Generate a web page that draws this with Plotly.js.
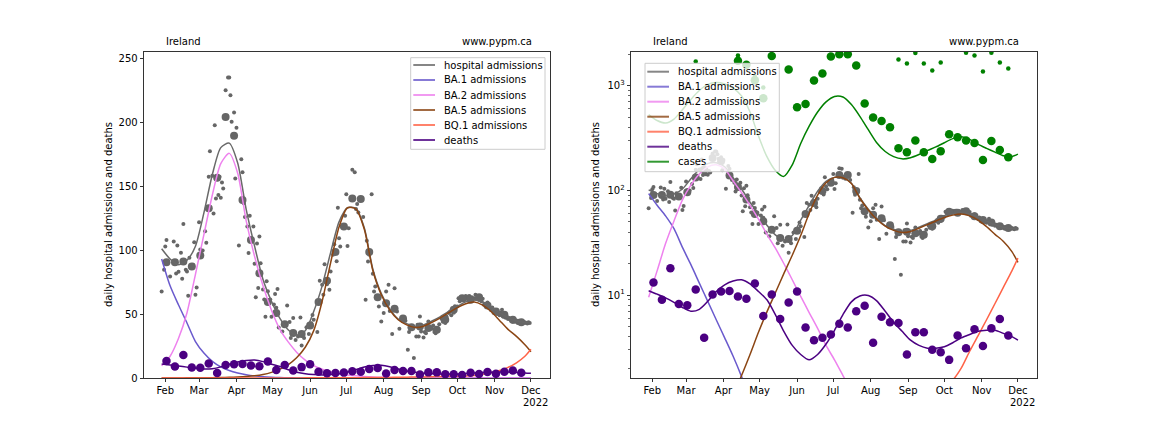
<!DOCTYPE html>
<html><head><meta charset="utf-8">
<script src="https://cdn.plot.ly/plotly-3.0.1.min.js"></script>
<style>html,body{margin:0;padding:0;background:#fff;}#chart{width:1152px;height:432px;}</style>
</head><body><div id="chart"></div>
<script>
// ---------------- DATA ----------------
const monthTicks = ['2022-02-01','2022-03-01','2022-04-01','2022-05-01','2022-06-01','2022-07-01','2022-08-01','2022-09-01','2022-10-01','2022-11-01','2022-12-01'];
const monthLabels = ['Feb','Mar','Apr','May','Jun','Jul','Aug','Sep','Oct','Nov','Dec'];
const yearLabel = '2022';
const regionLabel = 'Ireland';
const siteLabel = 'www.pypm.ca';
const yTitle = 'daily hospital admissions and deaths';
const linearTicks = [0, 50, 100, 150, 200, 250];
const logTicks = [10, 100, 1000];
const logTickText = ['10<sup>1</sup>', '10<sup>2</sup>', '10<sup>3</sup>'];

// model curves (sampled weekly)
const curveDates = ['2022-01-29','2022-02-05','2022-02-12','2022-02-19','2022-02-26','2022-03-05','2022-03-12','2022-03-19','2022-03-26','2022-04-02','2022-04-09','2022-04-16','2022-04-23','2022-04-30','2022-05-07','2022-05-14','2022-05-21','2022-05-28','2022-06-04','2022-06-11','2022-06-18','2022-06-25','2022-07-02','2022-07-09','2022-07-16','2022-07-23','2022-07-30','2022-08-06','2022-08-13','2022-08-20','2022-08-27','2022-09-03','2022-09-10','2022-09-17','2022-09-24','2022-10-01','2022-10-08','2022-10-15','2022-10-22','2022-10-29','2022-11-05','2022-11-12','2022-11-19','2022-11-26','2022-12-01'];
const hospCurve = [101,93,88.5,92,103,129,159,180,183.5,168,132,103,77,60,46.5,37.5,33.5,37,52,72,98,122,133,132.5,117,85,66,54,46,42.5,40.5,41.5,44.5,48,52,56,59.5,61,59.5,55.5,51,47,44.5,43.3,43];
const ba1Curve = [93,72,57,43,28.5,19.5,13,8.7,5.8,3.9,2.6,1.66,1.0,0.56,0.3,0.17,0.09,0.05,0.03,0.02,0.015,0.01,0.01,0.01,0.01,0.01,0.01,0.01,0.01,0.01,0.01,0.01,0.01,0.01,0.01,0.01,0.01,0.01,0.01,0.01,0.01,0.01,0.01,0.01,0.01];
const ba2Curve = [9.5,17,31,51,81,112,143,167.5,175.5,160,123,95,72,53,38,28,20,14,9.7,6.8,4.8,3.3,2.4,1.7,1.2,0.8,0.5,0.3,0.18,0.1,0.06,0.04,0.03,0.02,0.02,0.01,0.01,0.01,0.01,0.01,0.01,0.01,0.01,0.01,0.01];
const ba5Curve = [0.05,0.06,0.08,0.1,0.13,0.17,0.25,0.35,0.5,0.72,1.1,1.7,2.7,4.4,6.9,10.5,16,24,37,60,90,118,133,132,116,84,65,53,45.5,41.5,39.5,40.5,43.5,47,51,55,58,59.4,57,52,45,38,32.5,26,20.5];
const bq1Curve = [0.01,0.012,0.014,0.016,0.018,0.02,0.023,0.026,0.03,0.034,0.04,0.045,0.05,0.06,0.07,0.08,0.09,0.1,0.12,0.14,0.16,0.19,0.22,0.26,0.3,0.35,0.4,0.47,0.55,0.64,0.75,0.87,1.0,1.15,1.3,1.45,1.55,2.0,2.9,4.1,5.8,8.3,11.9,17,22.5];
const deathsCurve = [11,10.2,9.4,8.5,7.6,7.0,7.3,8.7,10.8,12.5,13.6,14,12.8,10.8,9.0,6.5,4.5,3.3,2.7,2.4,2.7,3.4,4.6,6.5,8.6,9.8,9.9,8.8,7.0,5.5,4.5,3.7,3.3,3.1,3.1,3.2,3.5,3.9,4.2,4.5,4.6,4.6,4.3,4.0,3.7];
const casesCurve = [530,465,440,480,590,740,900,1030,1070,1040,950,800,560,330,210,155,136,175,280,410,560,700,790,780,660,510,380,285,235,210,200,205,220,240,260,285,312,325,307,275,252,232,214,211,222];

// weekly data
const weekDates = ['2022-02-02','2022-02-09','2022-02-16','2022-02-23','2022-03-02','2022-03-09','2022-03-16','2022-03-23','2022-03-30','2022-04-06','2022-04-13','2022-04-20','2022-04-27','2022-05-04','2022-05-11','2022-05-18','2022-05-25','2022-06-01','2022-06-08','2022-06-15','2022-06-22','2022-06-29','2022-07-06','2022-07-13','2022-07-20','2022-07-27','2022-08-03','2022-08-10','2022-08-17','2022-08-24','2022-08-31','2022-09-07','2022-09-14','2022-09-21','2022-09-28','2022-10-05','2022-10-12','2022-10-19','2022-10-26','2022-11-02','2022-11-09','2022-11-16','2022-11-23'];
const deathsWeekly = [13.2,9.0,18,8.2,8.0,11.3,3.9,10.1,10.8,10.9,9.7,9.2,12.9,6.3,10.1,5.9,8.5,10.8,4.9,3.7,3.9,4.2,5.3,4.9,7.0,7.9,3.5,6.2,5.5,5.4,2.7,4.4,4.4,3.0,2.84,2.4,4.1,3.1,4.7,3.26,4.8,5.9,4.1];
const hospWeekly = [90.5,90.5,91,87.2,95.8,132.6,156.5,204,189.2,139,107.8,81.8,59.4,50.8,42,35.1,34.3,41.1,59.3,75.9,98.4,118.4,140.3,139.9,98.4,63.1,58.4,54.2,46.5,39.7,40.3,39,37.7,45.5,53.4,62.4,61.1,63,56.7,52,49.4,45.5,43.6];
const casesBigDates = ['2022-04-13','2022-04-20','2022-04-27','2022-05-04','2022-05-11','2022-05-25','2022-06-01','2022-06-08','2022-06-15','2022-06-22','2022-06-29','2022-07-06','2022-07-13','2022-07-20','2022-07-27','2022-08-03','2022-08-10','2022-08-17','2022-08-24','2022-08-31','2022-09-07','2022-09-14','2022-09-21','2022-09-28','2022-10-05','2022-10-12','2022-10-19','2022-10-26','2022-11-02','2022-11-09','2022-11-16','2022-11-23'];
const casesBig = [1730,1585,1130,757,1920,1431,621,667,1124,1310,1900,2000,2000,1563,677,498,459,400,252,231,300,231,199,237,344,321,300,283,195,296,243,207];
const casesSmallDates = ['2022-03-09','2022-04-13','2022-04-27','2022-05-04','2022-08-24','2022-08-31','2022-09-07','2022-09-14','2022-09-21','2022-09-28','2022-10-19','2022-10-26','2022-11-02','2022-11-09','2022-11-16','2022-11-23'];
const casesSmall = [1706,1945,1216,960,1782,1633,2050,1633,1400,1667,2060,1945,1370,2060,1667,1462];

// daily hospital admissions
const hospDailyDates = ['2022-01-29','2022-01-31','2022-02-01','2022-02-02','2022-02-05','2022-02-08','2022-02-10','2022-02-11','2022-02-12','2022-02-14','2022-02-15','2022-02-16','2022-02-18','2022-02-19','2022-02-20','2022-02-21','2022-02-24','2022-02-25','2022-02-26','2022-02-27','2022-03-01','2022-03-02','2022-03-04','2022-03-06','2022-03-07','2022-03-08','2022-03-09','2022-03-10','2022-03-12','2022-03-13','2022-03-14','2022-03-15','2022-03-16','2022-03-17','2022-03-18','2022-03-19','2022-03-20','2022-03-21','2022-03-23','2022-03-25','2022-03-26','2022-03-27','2022-03-28','2022-03-30','2022-03-31','2022-04-01','2022-04-03','2022-04-05','2022-04-06','2022-04-07','2022-04-08','2022-04-10','2022-04-11','2022-04-12','2022-04-15','2022-04-16','2022-04-17','2022-04-18','2022-04-19','2022-04-20','2022-04-21','2022-04-23','2022-04-24','2022-04-25','2022-04-26','2022-04-27','2022-04-29','2022-04-30','2022-05-02','2022-05-03','2022-05-04','2022-05-05','2022-05-06','2022-05-09','2022-05-13','2022-05-15','2022-05-16','2022-05-18','2022-05-20','2022-05-22','2022-05-24','2022-05-25','2022-05-27','2022-05-29','2022-05-31','2022-06-02','2022-06-03','2022-06-04','2022-06-07','2022-06-09','2022-06-11','2022-06-12','2022-06-13','2022-06-15','2022-06-17','2022-06-18','2022-06-20','2022-06-21','2022-06-23','2022-06-24','2022-06-25','2022-06-26','2022-06-30','2022-07-01','2022-07-02','2022-07-03','2022-07-06','2022-07-08','2022-07-09','2022-07-10','2022-07-11','2022-07-15','2022-07-17','2022-07-18','2022-07-19','2022-07-20','2022-07-22','2022-07-23','2022-07-24','2022-07-25','2022-07-28','2022-07-30','2022-08-01','2022-08-03','2022-08-05','2022-08-06','2022-08-08','2022-08-09','2022-08-10','2022-08-12','2022-08-14','2022-08-16','2022-08-19','2022-08-21','2022-08-22','2022-08-26','2022-08-28','2022-08-29','2022-08-30','2022-08-31','2022-09-01','2022-09-03','2022-09-04','2022-09-05','2022-09-06','2022-09-07','2022-09-08','2022-09-10','2022-09-11','2022-09-12','2022-09-13','2022-09-14','2022-09-15','2022-09-16','2022-09-18','2022-09-19','2022-09-20','2022-09-21','2022-09-22','2022-09-24','2022-09-25','2022-09-26','2022-09-27','2022-09-28','2022-09-29','2022-10-01','2022-10-02','2022-10-03','2022-10-05','2022-10-07','2022-10-08','2022-10-09','2022-10-10','2022-10-11','2022-10-12','2022-10-13','2022-10-15','2022-10-16','2022-10-17','2022-10-18','2022-10-19','2022-10-20','2022-10-21','2022-10-22','2022-10-23','2022-10-24','2022-10-25','2022-10-26','2022-10-27','2022-10-28','2022-10-29','2022-10-30','2022-10-31','2022-11-01','2022-11-02','2022-11-03','2022-11-04','2022-11-05','2022-11-06','2022-11-07','2022-11-08','2022-11-09','2022-11-10','2022-11-11','2022-11-12','2022-11-13','2022-11-14','2022-11-15','2022-11-16','2022-11-17','2022-11-18','2022-11-19','2022-11-20','2022-11-21','2022-11-22','2022-11-23','2022-11-24','2022-11-25','2022-11-26','2022-11-27','2022-11-28','2022-11-29','2022-11-30'];
const hospDaily = [67.6,84.5,102.7,107.9,79.3,106.6,81.7,103.6,83,97.9,77.5,120.3,84.5,83.2,64.2,94,88.4,106,65,70.7,121.6,100.3,99.6,114.7,105.6,133.1,157.2,177.2,158,128.6,197.4,140.3,155.3,142.9,157.2,140.8,152.7,148,224.8,234.7,234.7,220.9,200.2,207.4,155.9,195.5,103.6,171,160.7,136.6,125.7,118.4,97.7,126.8,118.4,89.3,63,105,70.4,110.5,89.6,69.1,61.3,47.8,75.6,67.8,61.3,47.8,57.4,65.7,54.8,69.6,39.5,36.4,56.7,43.7,31.2,46.8,29.6,32.4,47.3,25.4,31.2,39.6,34.3,42.8,49.3,45.5,35.9,75.9,72.8,65,88.9,73.3,68.9,83.2,96.2,104.5,91.2,133.1,109.2,102.7,126.8,143.5,103.2,117,162.8,160.7,132.1,136,129.4,125.8,61.1,107.3,91,96.2,143.5,81.4,67.6,71.5,55.9,44.2,50.7,67.6,72.8,52.4,34.3,53.2,70.2,51.9,38.4,46.8,44.7,22.1,35.9,15.6,32.5,41.6,32.5,48.1,36.4,31.7,36,35,38,44.2,40,38.5,41,36,35,37,38,42,46,44,47,43,48,50.7,52,49,54,51,56,55.9,62.4,60,63,61,64,62,63.7,64,62,63,62.4,65,62,64,61,63.7,60,62,57.2,58,56,59,55,54.6,53,55,51,53,52,50,50.7,49,51,53.4,48,50,47,48,46,46.8,46,45,44,46,44,45,43,44.7,44,43,44,43,43.6,43,42.5,43.6,43];

// ---------------- STYLE ----------------
const C = {
  hosp: '#696969', ba1: '#6a5acd', ba2: '#ee82ee', ba5: '#8b4513', bq1: '#ff6347',
  deaths: '#4b0082', cases: '#008000', dots: '#666666'
};
const FONT = 'DejaVu Sans, Liberation Sans, sans-serif';
const W = 1152, H = 432, ML = 144, MR = 115, MT = 52, MB = 54;
const PW = W - ML - MR, PH = H - MT - MB;
const pxX = p => (p - ML) / PW;
const pxY = p => (H - MB - p) / PH;

function curve(x, y, color, xa, ya) {
  return {type:'scatter', mode:'lines', x:x, y:y, xaxis:xa, yaxis:ya,
    line:{color:color, width:1.5, shape:'spline', smoothing:0.7},
    showlegend:false, hoverinfo:'skip'};
}
function dots(x, y, color, size, xa, ya) {
  return {type:'scatter', mode:'markers', x:x, y:y, xaxis:xa, yaxis:ya,
    marker:{color:color, size:size, line:{width:0}}, showlegend:false, hoverinfo:'skip'};
}

const traces = [];
[['x','y'],['x2','y2']].forEach(([xa, ya], i) => {
  traces.push(dots(hospDailyDates, hospDaily, C.dots, 4, xa, ya));
  traces.push(dots(weekDates, hospWeekly, C.dots, 8, xa, ya));
  if (i === 1) {
    traces.push(dots(casesSmallDates, casesSmall, C.cases, 4.5, xa, ya));
    traces.push(dots(casesBigDates, casesBig, C.cases, 8.5, xa, ya));
    traces.push(curve(curveDates, casesCurve, C.cases, xa, ya));
  }
  traces.push(curve(curveDates, hospCurve, C.hosp, xa, ya));
  traces.push(curve(curveDates, ba1Curve, C.ba1, xa, ya));
  traces.push(curve(curveDates, ba2Curve, C.ba2, xa, ya));
  traces.push(curve(curveDates, ba5Curve, C.ba5, xa, ya));
  traces.push(curve(curveDates, bq1Curve, C.bq1, xa, ya));
  traces.push(curve(curveDates, deathsCurve, C.deaths, xa, ya));
  traces.push(dots(weekDates, deathsWeekly, C.deaths, 8.5, xa, ya));
});

const xRange = ['2022-01-14 09:00', '2022-12-16 19:00'];
const axisCommon = {
  showline:true, linecolor:'#000', linewidth:0.8, mirror:true, showgrid:false, zeroline:false,
  ticks:'outside', ticklen:3.5, tickwidth:0.8, tickcolor:'#000',
  tickfont:{family:FONT, size:10, color:'#000'}
};
const xAxis = (dom, anchor) => Object.assign({}, axisCommon, {
  domain:dom, anchor:anchor, type:'date', range:xRange,
  tickmode:'array', tickvals:monthTicks, ticktext:monthLabels
});
const minorLog = [];
[1,10,100,1000].forEach(d => { for (let m = 2; m <= 9; m++) minorLog.push(m * d); });

const legendItems = [
  ['hospital admissions', C.hosp], ['BA.1 admissions', C.ba1], ['BA.2 admissions', C.ba2],
  ['BA.5 admissions', C.ba5], ['BQ.1 admissions', C.bq1], ['deaths', C.deaths], ['cases', C.cases]
];

const shapes = [], annotations = [];
function drawLegend(box, n, firstRow, step, sw0, sw1, tx) {
  shapes.push({type:'rect', xref:'paper', yref:'paper', layer:'above',
    x0:pxX(box[0]), x1:pxX(box[1]), y0:pxY(box[3]), y1:pxY(box[2]),
    fillcolor:'rgba(255,255,255,0.8)', line:{color:'#cccccc', width:1}});
  for (let i = 0; i < n; i++) {
    const yy = pxY(firstRow + i * step);
    shapes.push({type:'line', xref:'paper', yref:'paper', layer:'above',
      x0:pxX(sw0), x1:pxX(sw1), y0:yy, y1:yy, opacity:0.8,
      line:{color:legendItems[i][1], width:2}});
    annotations.push({xref:'paper', yref:'paper', x:pxX(tx), y:yy, xanchor:'left', yanchor:'middle',
      text:legendItems[i][0], showarrow:false, font:{family:FONT, size:10, color:'#000'}});
  }
}
drawLegend([410.7, 545, 57.7, 149.3], 6, 65, 15, 413.3, 435, 442);
drawLegend([645, 779.3, 63.3, 171.7], 7, 71.7, 15, 647.3, 669, 676);

function txt(text, px, py, xanchor, extra) {
  annotations.push(Object.assign({xref:'paper', yref:'paper', x:pxX(px), y:pxY(py), xanchor:xanchor,
    yanchor:'middle', text:text, showarrow:false, font:{family:FONT, size:10, color:'#000'}}, extra || {}));
}
txt(regionLabel, 164, 41.7, 'left');
txt(siteLabel, 460, 41.7, 'left');
txt(regionLabel, 651, 41.7, 'left');
txt(siteLabel, 947.3, 41.7, 'left');
txt(yearLabel, 550, 402, 'right');
txt(yearLabel, 1037, 402, 'right');
txt(yTitle, 108, 215, 'center', {textangle:-90});
txt(yTitle, 595, 215, 'center', {textangle:-90});

const layout = {
  width:W, height:H, margin:{l:ML, r:MR, t:MT, b:MB, pad:0},
  paper_bgcolor:'#fff', plot_bgcolor:'#fff', showlegend:false,
  font:{family:FONT, size:10, color:'#000'},
  xaxis: xAxis([0, 406/PW], 'y'),
  xaxis2: xAxis([487/PW, 1], 'y2'),
  yaxis: Object.assign({}, axisCommon, {domain:[0,1], anchor:'x', range:[0, 254.7],
    tickmode:'array', tickvals:linearTicks}),
  yaxis2: Object.assign({}, axisCommon, {domain:[0,1], anchor:'x2', type:'log', range:[0.207, 3.322],
    tickmode:'array', tickvals:logTicks, ticktext:logTickText,
    minor:{tickmode:'array', tickvals:minorLog, ticks:'outside', ticklen:2, tickwidth:0.6, tickcolor:'#000', showgrid:false}}),
  shapes:shapes, annotations:annotations
};

Plotly.newPlot('chart', traces, layout, {staticPlot:true, displayModeBar:false});
</script></body></html>
